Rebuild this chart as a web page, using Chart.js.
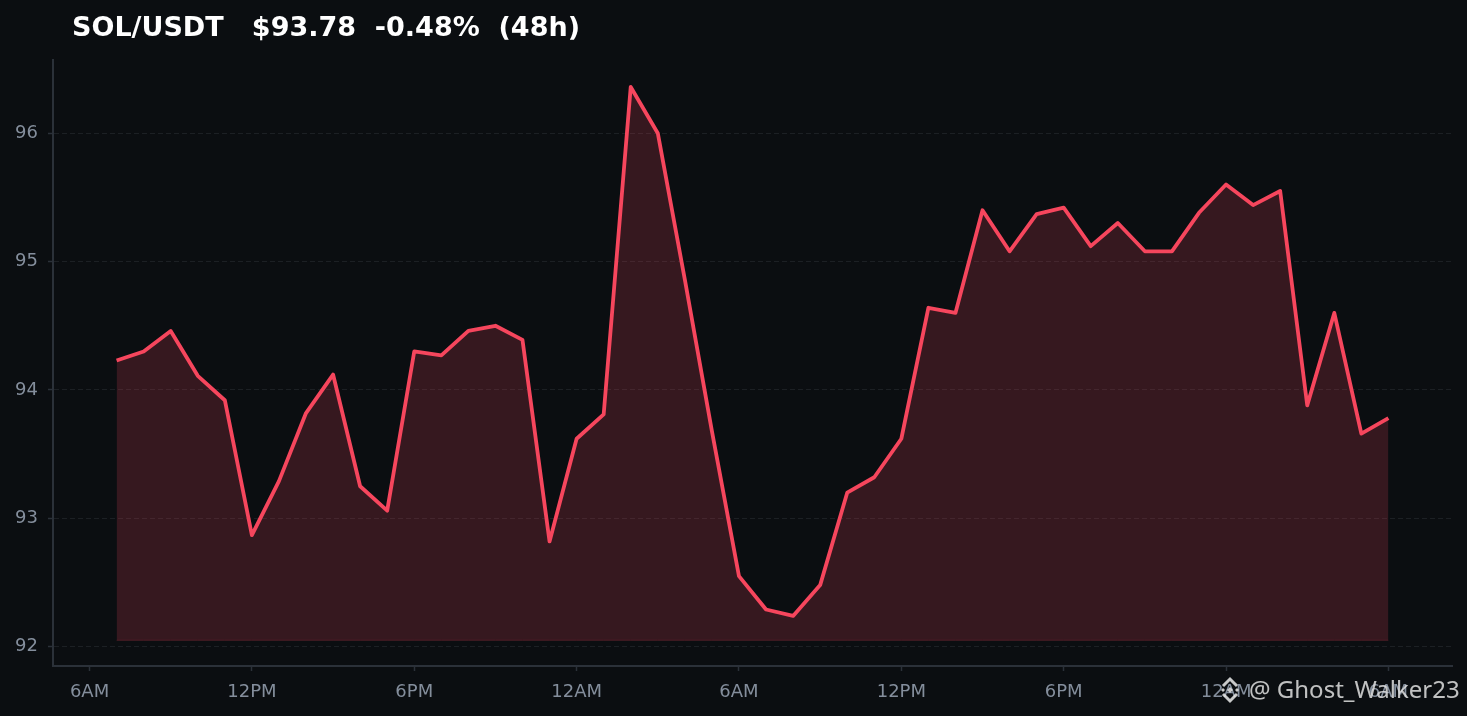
<!DOCTYPE html>
<html>
<head>
<meta charset="utf-8">
<script src="https://cdn.jsdelivr.net/npm/chart.js@4.4.1/dist/chart.umd.min.js"></script>
<style>
    html, body { margin: 0; padding: 0; background: #0b0e11; }
    #wrap { width: 1467px; height: 716px; }
</style>
</head>
<body>
<div id="wrap"><canvas id="solChart" width="1467" height="716"></canvas></div>
<script>
// SOL/USDT hourly closes, 7AM day 1 -> 6AM day 3
const prices = [
    94.23, 94.30, 94.46, 94.11, 93.92, 92.87, 93.29, 93.82, 94.12, 93.25, 93.06, 94.30,
    94.27, 94.46, 94.50, 94.39, 92.82, 93.62, 93.81, 96.36, 96.00, 94.86, 93.68, 92.55,
    92.29, 92.24, 92.48, 93.20, 93.32, 93.62, 94.64, 94.60, 95.40, 95.08, 95.37, 95.42,
    95.12, 95.30, 95.08, 95.08, 95.38, 95.60, 95.44, 95.55, 93.88, 94.60, 93.66, 93.78
];
// tick positions in hours from the first point
const tickHours = [-1, 5, 11, 17, 23, 29, 35, 41, 47];
const tickLabels = ['6AM', '12PM', '6PM', '12AM', '6AM', '12PM', '6PM', '12AM', '6AM'];
const yTicks = [92, 93, 94, 95, 96];
const fillBase = 92.05;
const xRange = [-2.35, 49.35];
const yRange = [91.85, 96.57];

const titleText = 'SOL/USDT   $93.78  -0.48%  (48h)';
const watermark = '@ Ghost_Walker23';

const RED = '#f6465d';
const GRAY = '#848e9c';
const SPINE = '#2b3139';

const points = prices.map((p, i) => ({ x: i, y: p }));
const basePoints = prices.map((p, i) => ({ x: i, y: fillBase }));

// title + watermark
const decorPlugin = {
    id: 'decor',
    afterDraw(chart) {
        const ctx = chart.ctx;
        ctx.save();
        ctx.fillStyle = '#ffffff';
        ctx.font = 'bold 27px "DejaVu Sans"';
        ctx.textBaseline = 'alphabetic';
        ctx.textAlign = 'left';
        ctx.fillText(titleText, 72, 36);

        // little diamond logo
        const cx = 1230, cy = 690;
        const c = 'rgba(235,235,235,0.85)';
        ctx.fillStyle = c;
        const diamond = (x, y, r) => {
            ctx.beginPath();
            ctx.moveTo(x, y - r); ctx.lineTo(x + r, y); ctx.lineTo(x, y + r); ctx.lineTo(x - r, y);
            ctx.closePath(); ctx.fill();
        };
        diamond(cx, cy, 3);
        diamond(cx - 7, cy, 2);
        diamond(cx + 7, cy, 2);
        ctx.strokeStyle = c;
        ctx.lineWidth = 3;
        ctx.lineJoin = 'miter';
        ctx.beginPath();
        ctx.moveTo(cx - 7, cy - 4); ctx.lineTo(cx, cy - 11); ctx.lineTo(cx + 7, cy - 4);
        ctx.stroke();
        ctx.beginPath();
        ctx.moveTo(cx - 7, cy + 4); ctx.lineTo(cx, cy + 11); ctx.lineTo(cx + 7, cy + 4);
        ctx.stroke();

        ctx.fillStyle = 'rgba(225,225,225,0.85)';
        ctx.font = '24px "Noto Sans"';
        ctx.fillText(watermark, 1249, 698);
        ctx.restore();
    }
};

const chart = new Chart(document.getElementById('solChart').getContext('2d'), {
    type: 'line',
    data: {
        datasets: [
            {
                label: 'SOL/USDT',
                data: points,
                borderColor: RED,
                borderWidth: 3.8,
                borderJoinStyle: 'round',
                backgroundColor: 'rgba(246,70,93,0.19)',
                fill: { value: fillBase },
                pointRadius: 0,
                tension: 0
            },
            {
                label: 'base',
                data: basePoints,
                borderColor: 'rgba(246,70,93,0.22)',
                borderWidth: 1,
                pointRadius: 0,
                fill: false
            }
        ]
    },
    options: {
        responsive: false,
        animation: false,
        devicePixelRatio: 1,
        layout: { padding: { left: 0, right: 15, top: 60, bottom: 0 } },
        plugins: {
            legend: { display: false },
            tooltip: { enabled: false }
        },
        scales: {
            x: {
                type: 'linear',
                min: xRange[0],
                max: xRange[1],
                afterFit: (scale) => { scale.height = 50; },
                afterBuildTicks: (scale) => { scale.ticks = tickHours.map(v => ({ value: v })); },
                ticks: {
                    autoSkip: false,
                    maxRotation: 0,
                    padding: 11,
                    color: GRAY,
                    font: { family: 'DejaVu Sans', size: 18 },
                    callback: (v, i) => tickLabels[i]
                },
                grid: {
                    drawOnChartArea: false,
                    drawTicks: true,
                    tickLength: 5,
                    tickWidth: 1.5,
                    tickColor: SPINE
                },
                border: { display: true, color: SPINE, width: 2 }
            },
            y: {
                type: 'linear',
                min: yRange[0],
                max: yRange[1],
                afterFit: (scale) => { scale.width = 53; },
                afterBuildTicks: (scale) => { scale.ticks = yTicks.map(v => ({ value: v })); },
                ticks: {
                    padding: 10,
                    color: GRAY,
                    font: { family: 'DejaVu Sans', size: 18 },
                    callback: (v) => String(v)
                },
                grid: {
                    color: 'rgba(132,142,156,0.14)',
                    lineWidth: 1,
                    drawTicks: true,
                    tickLength: 5,
                    tickWidth: 1.5,
                    tickColor: SPINE,
                    tickBorderDash: []
                },
                border: { display: true, color: SPINE, width: 2, dash: [5, 3] }
            }
        }
    },
    plugins: [decorPlugin]
});
</script>
</body>
</html>
